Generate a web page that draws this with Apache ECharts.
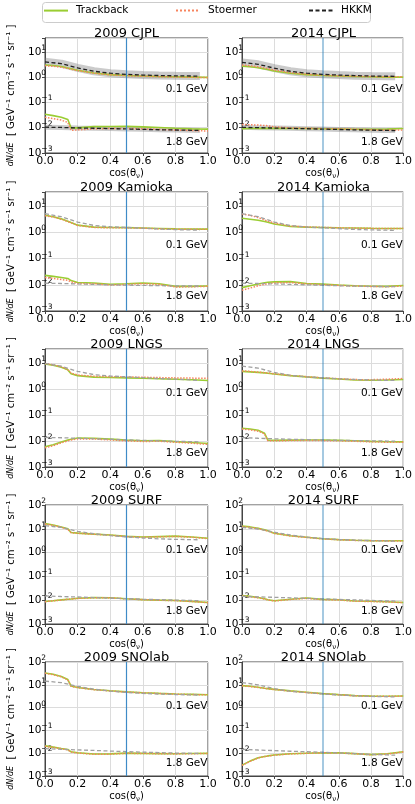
<!DOCTYPE html>
<html>
<head>
<meta charset="utf-8">
<script src="https://cdn.jsdelivr.net/npm/echarts@6/dist/echarts.min.js"></script>
<style>
  html, body { margin: 0; padding: 0; background: #fff; }
  #main { width: 415px; height: 804px; }
</style>
</head>
<body>
<div id="main"></div>
<script>
// zenith angle points (cos theta) of the calculations
var cosTheta = [0, 0.05, 0.1, 0.14, 0.16, 0.2, 0.3, 0.4, 0.5, 0.6, 0.7, 0.8, 0.9, 1.0];
var cosThetaHkkm = [0, 0.1, 0.2, 0.3, 0.4, 0.5, 0.6, 0.7, 0.8, 0.9, 0.95];
var titles = ['2009 CJPL', '2014 CJPL', '2009 Kamioka', '2014 Kamioka', '2009 LNGS',
  '2014 LNGS', '2009 SURF', '2014 SURF', '2009 SNOlab', '2014 SNOlab'];
var models = ['Trackback', 'Stoermer', 'HKKM'];
var energyLabels = ['0.1 GeV', '1.8 GeV'];
var xTicks = ['0.0', '0.2', '0.4', '0.6', '0.8', '1.0'];
// flux value where the energy note sits at cos = 1.0 (one per row)
var noteLow = [0.34, 0.33, 0.69, 1.2, 1.2];
var noteHigh = [0.0027, 0.0035, 0.0034, 0.0033, 0.0036];
var cutCos = 0.5;

// Tb = Trackback, St = Stoermer, Hk = HKKM ; Lo = 0.1 GeV, Hi = 1.8 GeV
var cjpl09TbLo = [3.0, 2.85, 2.6, 2.3, 2.15, 1.85, 1.45, 1.25, 1.15, 1.1, 1.06, 1.03, 1.0, 0.97];
var cjpl09StLo = [2.8, 2.7, 2.45, 2.2, 2.05, 1.8, 1.42, 1.23, 1.13, 1.08, 1.04, 1.0, 0.98, 0.95];
var cjpl09HkLo = [4.0, 3.4, 2.3, 1.7, 1.42, 1.28, 1.2, 1.15, 1.12, 1.1, 1.1];
var cjpl09TbHi = [0.034, 0.03, 0.026, 0.021, 0.0098, 0.0098, 0.011, 0.0112, 0.0113, 0.0108, 0.0102, 0.0095, 0.009, 0.0088];
var cjpl09StHi = [0.026, 0.023, 0.02, 0.016, 0.0078, 0.0082, 0.009, 0.0093, 0.0093, 0.009, 0.0086, 0.0081, 0.0077, 0.0074];
var cjpl09HkHi = [0.0105, 0.0102, 0.0098, 0.0095, 0.0092, 0.0089, 0.0086, 0.0083, 0.0081, 0.0079, 0.0078];

var cjpl14TbLo = [2.7, 2.55, 2.35, 2.1, 2.0, 1.75, 1.42, 1.25, 1.15, 1.1, 1.06, 1.03, 1.0, 1.0];
var cjpl14StLo = [3.0, 2.8, 2.55, 2.3, 2.15, 1.9, 1.5, 1.3, 1.18, 1.12, 1.08, 1.05, 1.02, 1.02];
var cjpl14HkLo = [3.8, 3.2, 2.25, 1.7, 1.42, 1.28, 1.2, 1.14, 1.1, 1.08, 1.07];
var cjpl14TbHi = [0.0092, 0.0093, 0.0094, 0.0094, 0.0094, 0.0094, 0.0093, 0.0093, 0.0091, 0.0089, 0.0087, 0.0086, 0.0088, 0.0093];
var cjpl14StHi = [0.0135, 0.013, 0.0128, 0.0122, 0.012, 0.0108, 0.0098, 0.0095, 0.0092, 0.009, 0.0087, 0.0083, 0.008, 0.0082];
var cjpl14HkHi = [0.0103, 0.01, 0.0097, 0.0094, 0.0091, 0.0088, 0.0085, 0.0082, 0.008, 0.0078, 0.0077];

var kam09TbLo = [4.5, 4.0, 3.3, 2.7, 2.4, 1.9, 1.6, 1.55, 1.52, 1.47, 1.42, 1.37, 1.34, 1.34];
var kam09StLo = [4.3, 3.9, 3.2, 2.6, 2.35, 1.85, 1.55, 1.5, 1.5, 1.45, 1.38, 1.33, 1.32, 1.33];
var kam09HkLo = [5.2, 4.0, 2.5, 1.85, 1.65, 1.55, 1.45, 1.35, 1.28, 1.24, 1.23];
var kam09TbHi = [0.023, 0.021, 0.019, 0.0175, 0.0145, 0.0122, 0.0118, 0.0104, 0.011, 0.0118, 0.011, 0.0087, 0.0087, 0.009];
var kam09StHi = [0.019, 0.0175, 0.016, 0.0148, 0.013, 0.0112, 0.011, 0.0099, 0.0103, 0.011, 0.0104, 0.0083, 0.0084, 0.0088];
var kam09HkHi = [0.0115, 0.0112, 0.0108, 0.0104, 0.01, 0.0097, 0.0095, 0.0093, 0.0091, 0.009, 0.009];

var kam14TbLo = [3.5, 3.2, 2.9, 2.6, 2.45, 2.1, 1.7, 1.6, 1.55, 1.5, 1.47, 1.44, 1.42, 1.42];
var kam14StLo = [5.0, 4.5, 3.7, 3.0, 2.7, 2.3, 1.75, 1.62, 1.56, 1.5, 1.46, 1.43, 1.42, 1.43];
var kam14HkLo = [5.2, 4.0, 2.5, 1.85, 1.6, 1.5, 1.4, 1.3, 1.25, 1.22, 1.2];
var kam14TbHi = [0.0078, 0.0092, 0.0108, 0.012, 0.0125, 0.013, 0.0132, 0.0112, 0.0106, 0.0098, 0.0092, 0.0088, 0.0087, 0.0094];
var kam14StHi = [0.0062, 0.0075, 0.0092, 0.0105, 0.011, 0.0118, 0.0122, 0.0108, 0.0102, 0.0095, 0.009, 0.0086, 0.0085, 0.009];
var kam14HkHi = [0.0115, 0.0112, 0.0108, 0.0104, 0.01, 0.0096, 0.0092, 0.0089, 0.0087, 0.0085, 0.0085];

var lngs09TbLo = [9.2, 8.3, 7.0, 5.5, 3.9, 3.3, 2.9, 2.8, 2.7, 2.6, 2.5, 2.4, 2.3, 2.15];
var lngs09StLo = [9.6, 8.6, 7.2, 5.7, 4.1, 3.5, 3.1, 3.0, 2.95, 2.85, 2.78, 2.7, 2.65, 2.6];
var lngs09HkLo = [9.6, 7.6, 4.8, 3.6, 3.2, 2.95, 2.75, 2.55, 2.4, 2.25, 2.15];
var lngs09TbHi = [0.006, 0.0072, 0.0092, 0.011, 0.0118, 0.013, 0.0128, 0.0118, 0.0108, 0.0102, 0.0104, 0.0095, 0.0088, 0.008];
var lngs09StHi = [0.0055, 0.0066, 0.0085, 0.0102, 0.011, 0.012, 0.012, 0.011, 0.0102, 0.0096, 0.0098, 0.009, 0.0083, 0.0074];
var lngs09HkHi = [0.0138, 0.0134, 0.0128, 0.0122, 0.0117, 0.0111, 0.0106, 0.0102, 0.0098, 0.0095, 0.0093];

var lngs14TbLo = [4.8, 4.6, 4.4, 4.2, 4.1, 3.8, 3.3, 2.95, 2.65, 2.45, 2.25, 2.2, 2.25, 2.35];
var lngs14StLo = [5.0, 4.8, 4.5, 4.3, 4.2, 3.9, 3.35, 3.0, 2.7, 2.5, 2.32, 2.3, 2.4, 2.55];
var lngs14HkLo = [7.7, 6.4, 4.4, 3.4, 2.95, 2.7, 2.5, 2.35, 2.25, 2.18, 2.15];
var lngs14TbHi = [0.031, 0.029, 0.026, 0.02, 0.0108, 0.0106, 0.0108, 0.011, 0.0109, 0.0106, 0.0103, 0.0097, 0.0094, 0.0093];
var lngs14StHi = [0.029, 0.027, 0.024, 0.019, 0.0102, 0.0102, 0.0104, 0.0105, 0.0104, 0.0102, 0.0098, 0.0093, 0.009, 0.0089];
var lngs14HkHi = [0.0136, 0.0128, 0.0122, 0.0117, 0.0113, 0.011, 0.0107, 0.0104, 0.0102, 0.01, 0.0099];

var surf09TbLo = [16.5, 14.5, 12, 10, 7.0, 6.6, 6.0, 5.5, 4.8, 4.5, 4.7, 4.9, 4.5, 4.0];
var surf09StLo = [16, 14, 11.5, 9.6, 6.8, 6.5, 5.9, 5.4, 4.7, 4.4, 4.6, 4.8, 4.4, 3.9];
var surf09HkLo = [13.5, 11.5, 7.8, 6.2, 5.2, 4.6, 4.1, 3.8, 3.6, 3.5, 3.45];
var surf09TbHi = [0.0088, 0.0095, 0.0103, 0.011, 0.0113, 0.012, 0.0128, 0.0126, 0.0115, 0.0106, 0.0101, 0.0097, 0.0089, 0.008];
var surf09StHi = [0.0087, 0.0094, 0.0102, 0.0109, 0.0112, 0.0119, 0.0127, 0.0125, 0.0114, 0.0105, 0.01, 0.0096, 0.0088, 0.0079];
var surf09HkHi = [0.0152, 0.0143, 0.0136, 0.0129, 0.0122, 0.0116, 0.011, 0.0105, 0.0101, 0.0097, 0.0095];

var surf14TbLo = [13, 12, 10.5, 9.0, 8.2, 6.5, 5.1, 4.4, 3.8, 3.5, 3.3, 3.2, 3.15, 3.15];
var surf14StLo = [12.5, 11.6, 10.2, 8.8, 8.0, 6.4, 5.0, 4.35, 3.75, 3.45, 3.25, 3.15, 3.1, 3.1];
var surf14HkLo = [11.5, 9.8, 7.2, 5.5, 4.5, 3.9, 3.55, 3.35, 3.2, 3.1, 3.05];
var surf14TbHi = [0.0158, 0.0145, 0.013, 0.0115, 0.0105, 0.0095, 0.011, 0.0124, 0.0108, 0.0104, 0.0093, 0.009, 0.0086, 0.008];
var surf14StHi = [0.0152, 0.014, 0.0126, 0.0112, 0.0102, 0.0093, 0.0107, 0.012, 0.0105, 0.0102, 0.0091, 0.0088, 0.0084, 0.0079];
var surf14HkHi = [0.0145, 0.0138, 0.0132, 0.0126, 0.012, 0.0114, 0.0108, 0.0103, 0.0098, 0.0094, 0.0092];

var sno09TbLo = [33, 29, 23, 17, 8.8, 7.6, 6.2, 5.5, 4.9, 4.5, 4.2, 3.95, 3.8, 3.65];
var sno09StLo = [32, 28, 22.5, 16.5, 8.6, 7.5, 6.1, 5.4, 4.8, 4.45, 4.15, 3.9, 3.75, 3.6];
var sno09HkLo = [14.5, 12.5, 8.5, 6.4, 5.3, 4.6, 4.2, 3.95, 3.75, 3.6, 3.55];
var sno09TbHi = [0.021, 0.0185, 0.016, 0.0145, 0.0115, 0.0104, 0.0092, 0.0093, 0.0101, 0.0098, 0.0096, 0.0094, 0.0097, 0.0098];
var sno09StHi = [0.02, 0.018, 0.0155, 0.014, 0.0112, 0.0102, 0.009, 0.0091, 0.0099, 0.0097, 0.0095, 0.0093, 0.0095, 0.0097];
var sno09HkHi = [0.0158, 0.0148, 0.014, 0.0132, 0.0124, 0.0117, 0.0111, 0.0106, 0.0102, 0.0099, 0.0098];

var sno14TbLo = [9.2, 8.6, 7.8, 7.1, 6.8, 6.3, 5.4, 4.7, 4.1, 3.7, 3.35, 3.2, 3.15, 3.25];
var sno14StLo = [9.0, 8.4, 7.6, 7.0, 6.7, 6.2, 5.3, 4.6, 4.05, 3.65, 3.3, 3.15, 3.1, 3.2];
var sno14HkLo = [12.5, 10, 6.8, 5.2, 4.5, 4.0, 3.6, 3.3, 3.1, 3.0, 2.95];
var sno14TbHi = [0.003, 0.0045, 0.0063, 0.0072, 0.0076, 0.0083, 0.0094, 0.01, 0.0105, 0.0103, 0.0096, 0.0087, 0.0094, 0.0115];
var sno14StHi = [0.0029, 0.0044, 0.0062, 0.0071, 0.0075, 0.0082, 0.0093, 0.0099, 0.0104, 0.0102, 0.0095, 0.0086, 0.0092, 0.0113];
var sno14HkHi = [0.0148, 0.0138, 0.013, 0.0122, 0.0116, 0.011, 0.0103, 0.0096, 0.0089, 0.0084, 0.0082];

var panelData = [
  [cjpl09TbLo, cjpl09StLo, cjpl09HkLo, cjpl09TbHi, cjpl09StHi, cjpl09HkHi],
  [cjpl14TbLo, cjpl14StLo, cjpl14HkLo, cjpl14TbHi, cjpl14StHi, cjpl14HkHi],
  [kam09TbLo, kam09StLo, kam09HkLo, kam09TbHi, kam09StHi, kam09HkHi],
  [kam14TbLo, kam14StLo, kam14HkLo, kam14TbHi, kam14StHi, kam14HkHi],
  [lngs09TbLo, lngs09StLo, lngs09HkLo, lngs09TbHi, lngs09StHi, lngs09HkHi],
  [lngs14TbLo, lngs14StLo, lngs14HkLo, lngs14TbHi, lngs14StHi, lngs14HkHi],
  [surf09TbLo, surf09StLo, surf09HkLo, surf09TbHi, surf09StHi, surf09HkHi],
  [surf14TbLo, surf14StLo, surf14HkLo, surf14TbHi, surf14StHi, surf14HkHi],
  [sno09TbLo, sno09StLo, sno09HkLo, sno09TbHi, sno09StHi, sno09HkHi],
  [sno14TbLo, sno14StLo, sno14HkLo, sno14TbHi, sno14StHi, sno14HkHi]
];

var font = 'DejaVu Sans';
var colLeft = [45, 242];
var colWidth = 163;
var rowTop = [38, 192, 349, 505, 662];
var rowHeight = [115, 119, 118, 119, 118];
var rowMax = [35, 35, 35, 100, 100];
var legendLeft = [43, 175, 308];
var tbColor = '#9acd32';
var stColor = '#f7845e';

function pairs (xs, ys) {
  return ys.map(function (y, i) { return [xs[i], y]; });
}

// 10^n labels like matplotlib
function powLabel (v) {
  var e = Math.log(v) / Math.LN10;
  var r = Math.round(e);
  if (Math.abs(e - r) > 1e-6) return '';
  return '{b|10}{s|' + (r < 0 ? '\u2212' + (-r) : r) + '}';
}

var grids = [], xAxes = [], yAxes = [], titleList = [], series = [];

for (var p = 0; p < 10; p++) {
  var row = Math.floor(p / 2);
  var col = p % 2;
  var d = panelData[p];
  var isCjpl = row === 0;
  var hkColor = isCjpl ? '#222' : '#a0a0a0';

  grids.push({
    left: colLeft[col], top: rowTop[row], width: colWidth, height: rowHeight[row],
    show: true, borderColor: '#444', borderWidth: 1, backgroundColor: 'transparent'
  });

  titleList.push({
    text: titles[p], left: colLeft[col] + colWidth / 2, top: rowTop[row] - 11,
    textAlign: 'center', padding: 0,
    textStyle: { fontSize: 13, fontWeight: 'normal', color: '#000', fontFamily: font }
  });

  xAxes.push({
    gridIndex: p, type: 'value', min: 0, max: 1, interval: 0.2,
    axisLine: { show: true, lineStyle: { color: '#444' } },
    axisTick: { show: true, length: 3, lineStyle: { color: '#444' } },
    axisLabel: {
      fontSize: 11, margin: 3, color: '#000', fontFamily: font,
      formatter: function (v) { return xTicks[Math.round(v / 0.2)]; }
    },
    splitLine: { show: true, lineStyle: { color: '#dcdcdc', width: 1 } },
    name: '{c|cos(\u03b8}{n|\u03bd}{c|)}',
    nameLocation: 'middle', nameGap: 13,
    nameTextStyle: {
      color: '#000', fontFamily: font,
      rich: {
        c: { fontSize: 10, lineHeight: 14, fontFamily: font, color: '#000' },
        n: { fontSize: 7, lineHeight: 6, verticalAlign: 'bottom', fontFamily: font, color: '#000' }
      }
    }
  });

  var yAx = {
    gridIndex: p, type: 'log', logBase: 10, min: 0.001, max: rowMax[row],
    axisLine: { show: true, lineStyle: { color: '#444' } },
    axisTick: { show: true, length: 3, lineStyle: { color: '#444' } },
    axisLabel: {
      align: 'left', margin: 17, color: '#000', fontFamily: font,
      formatter: powLabel,
      rich: {
        b: { fontSize: 10.5, lineHeight: 16, fontFamily: font, color: '#000' },
        s: { fontSize: 7.5, lineHeight: 9, verticalAlign: 'top', fontFamily: font, color: '#000' }
      }
    },
    splitLine: { show: true, lineStyle: { color: '#dcdcdc', width: 1 } }
  };
  if (col === 0) {
    yAx.name = '{f|dN/dE}  [ GeV\u207b\u00b9 cm\u207b\u00b2 s\u207b\u00b9 sr\u207b\u00b9 ]';
    yAx.nameLocation = 'middle';
    yAx.nameRotate = 90;
    yAx.nameGap = 29;
    yAx.nameTextStyle = {
      fontSize: 10, color: '#000', fontFamily: font,
      rich: { f: { fontSize: 8, fontStyle: 'italic', fontFamily: font, color: '#000' } }
    };
  }
  yAxes.push(yAx);

  var base = { type: 'line', xAxisIndex: p, yAxisIndex: p, symbol: 'none', showSymbol: false, silent: true };

  for (var e = 0; e < 2; e++) {
    var tb = d[e * 3], st = d[e * 3 + 1], hk = d[e * 3 + 2];
    if (isCjpl) {
      // grey uncertainty band of HKKM
      series.push(Object.assign({}, base, {
        name: 'band', data: pairs(cosThetaHkkm, hk),
        itemStyle: { color: '#999' },
        lineStyle: { color: 'rgba(140,140,140,0.45)', width: e === 0 ? 8 : 5 }
      }));
    }
    var tbSeries = Object.assign({}, base, {
      name: models[0], data: pairs(cosTheta, tb),
      itemStyle: { color: tbColor },
      lineStyle: { color: tbColor, width: 1.6, type: 'solid' },
      markPoint: {
        symbol: 'rect', symbolSize: 1, itemStyle: { color: 'transparent' }, silent: true,
        label: {
          show: true, position: 'left', distance: 0, color: '#000', fontSize: 10.5, fontFamily: font,
          formatter: energyLabels[e]
        },
        data: [{ coord: [1.0, e === 0 ? noteLow[row] : noteHigh[row]] }]
      }
    });
    if (e === 0) {
      tbSeries.markLine = {
        silent: true, symbol: 'none', label: { show: false },
        lineStyle: {
          color: col === 0 ? '#3f8bc7' : 'rgba(31,119,180,0.4)', width: col === 0 ? 1.2 : 2, type: 'solid'
        },
        data: [{ xAxis: cutCos }]
      };
    }
    series.push(tbSeries);
    series.push(Object.assign({}, base, {
      name: models[1], data: pairs(cosTheta, st),
      itemStyle: { color: stColor },
      lineStyle: { color: stColor, width: 1.5, type: 'dotted' }
    }));
    series.push(Object.assign({}, base, {
      name: models[2], data: pairs(cosThetaHkkm, hk),
      itemStyle: { color: hkColor },
      lineStyle: { color: hkColor, width: 1.3, type: [4, 2.5] }
    }));
  }
}

// one legend per column so the three entries are spread like the original
var legends = models.map(function (m, i) {
  return {
    data: [m], left: legendLeft[i], top: 5, padding: 0,
    itemWidth: 24, itemHeight: 14,
    itemStyle: { opacity: 0 },
    textStyle: { fontSize: 10.5, color: '#000', fontFamily: font, padding: [0, 0, 0, 3] }
  };
});

var dom = document.getElementById('main');
var myChart = echarts.init(dom);
var option = {
  animation: false,
  textStyle: { fontFamily: font },
  title: titleList,
  // legend frame
  graphic: [{
    type: 'rect', left: 42, top: 2, silent: true, z: -1,
    shape: { width: 328, height: 20, r: 3 },
    style: { fill: '#fff', stroke: '#ccc', lineWidth: 1 }
  }],
  legend: legends,
  grid: grids,
  xAxis: xAxes,
  yAxis: yAxes,
  series: series
};
myChart.setOption(option);
</script>
</body>
</html>
